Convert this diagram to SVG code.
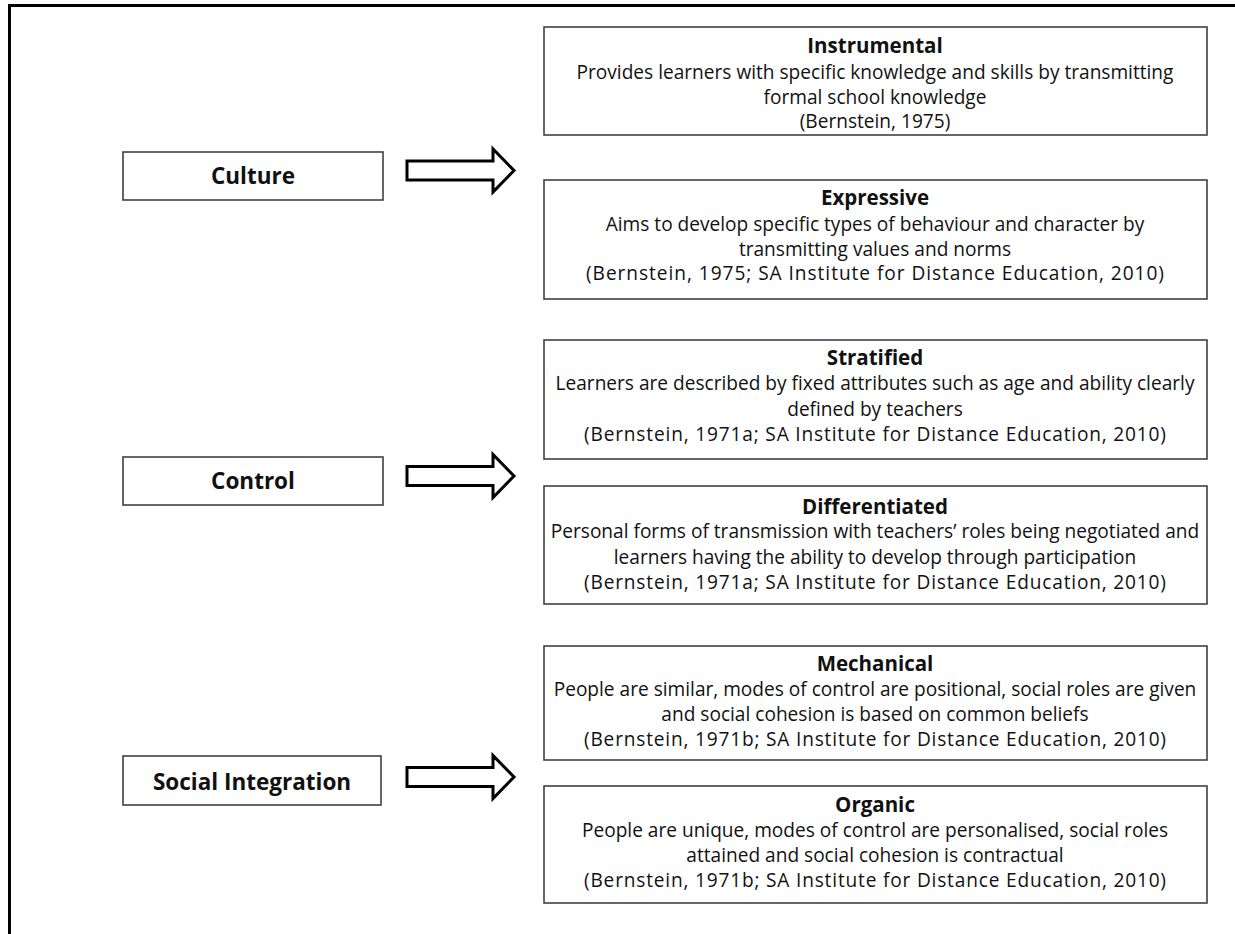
<svg xmlns="http://www.w3.org/2000/svg" width="1235" height="934" viewBox="0 0 1235 934">
<style>
.bg{fill:#fff}
.frame{fill:none;stroke:#000;stroke-width:3}
.box{fill:#fff;stroke:#404040;stroke-width:1.6}
.arrow{fill:#fff;stroke:#000;stroke-width:3;stroke-linejoin:miter}
.t{font-family:"Open Sans","Liberation Sans",sans-serif;fill:#111;text-anchor:middle}
.h{font-size:20.5px;font-weight:bold}
.b{font-size:19.1px}
.l{font-size:22.5px;font-weight:bold}
</style>
<rect class="bg" x="0" y="0" width="1235" height="934"/>
<path class="frame" d="M9.5,934 V5.5 H1235"/>

<g id="culture"><rect class="box" x="123" y="152" width="260" height="48"/><text class="t l" x="253" y="184">Culture</text></g>
<g id="control"><rect class="box" x="123" y="457" width="260" height="48"/><text class="t l" x="253" y="489">Control</text></g>
<g id="social-integration"><rect class="box" x="123" y="756" width="258" height="49"/><text class="t l" x="252" y="790">Social Integration</text></g>

<g id="connectors">
<path class="arrow" d="M407,161 H493 V149 L514,170.5 L493,192 V180 H407 Z"/>
<path class="arrow" d="M407,466.5 H493 V454.5 L514,476 L493,497.5 V485.5 H407 Z"/>
<path class="arrow" d="M407,767.5 H493 V755.5 L514,777 L493,798.5 V786.5 H407 Z"/>
</g>

<g id="instrumental"><rect class="box" x="544" y="27" width="663" height="108"/>
<text class="t h" x="875" y="53">Instrumental</text>
<text class="t b" x="875" y="79">Provides learners with specific knowledge and skills by transmitting</text>
<text class="t b" x="875" y="104">formal school knowledge</text>
<text class="t b" x="875" y="128">(Bernstein, 1975)</text></g>

<g id="expressive"><rect class="box" x="544" y="180" width="663" height="119"/>
<text class="t h" x="875" y="205">Expressive</text>
<text class="t b" x="875" y="231">Aims to develop specific types of behaviour and character by</text>
<text class="t b" x="875" y="256">transmitting values and norms</text>
<text class="t b" x="875" y="280" textLength="578" lengthAdjust="spacing">(Bernstein, 1975; SA Institute for Distance Education, 2010)</text></g>

<g id="stratified"><rect class="box" x="544" y="340" width="663" height="119"/>
<text class="t h" x="875" y="365">Stratified</text>
<text class="t b" x="875" y="390">Learners are described by fixed attributes such as age and ability clearly</text>
<text class="t b" x="875" y="416">defined by teachers</text>
<text class="t b" x="875" y="441" textLength="582" lengthAdjust="spacing">(Bernstein, 1971a; SA Institute for Distance Education, 2010)</text></g>

<g id="differentiated"><rect class="box" x="544" y="486" width="663" height="118"/>
<text class="t h" x="875" y="514">Differentiated</text>
<text class="t b" x="875" y="538">Personal forms of transmission with teachers’ roles being negotiated and</text>
<text class="t b" x="875" y="564">learners having the ability to develop through participation</text>
<text class="t b" x="875" y="589" textLength="582" lengthAdjust="spacing">(Bernstein, 1971a; SA Institute for Distance Education, 2010)</text></g>

<g id="mechanical"><rect class="box" x="544" y="646" width="663" height="114"/>
<text class="t h" x="875" y="671">Mechanical</text>
<text class="t b" x="875" y="696">People are similar, modes of control are positional, social roles are given</text>
<text class="t b" x="875" y="721">and social cohesion is based on common beliefs</text>
<text class="t b" x="875" y="746" textLength="582" lengthAdjust="spacing">(Bernstein, 1971b; SA Institute for Distance Education, 2010)</text></g>

<g id="organic"><rect class="box" x="544" y="786" width="663" height="117"/>
<text class="t h" x="875" y="812">Organic</text>
<text class="t b" x="875" y="837">People are unique, modes of control are personalised, social roles</text>
<text class="t b" x="875" y="862">attained and social cohesion is contractual</text>
<text class="t b" x="875" y="887" textLength="582" lengthAdjust="spacing">(Bernstein, 1971b; SA Institute for Distance Education, 2010)</text></g>
</svg>
